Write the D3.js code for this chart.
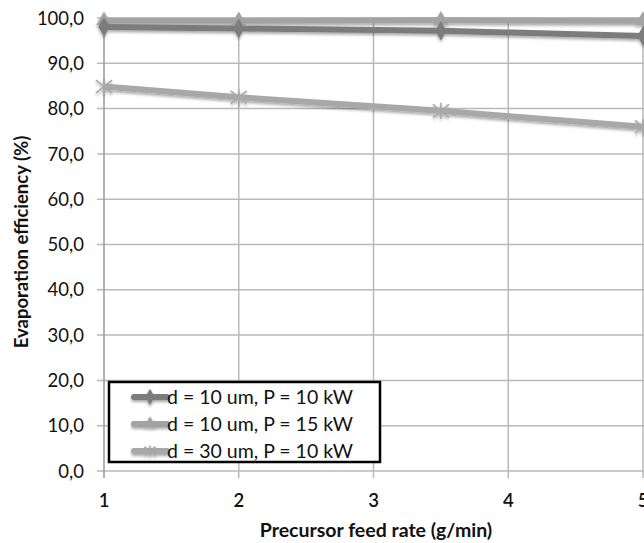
<!DOCTYPE html>
<html>
<head>
<meta charset="utf-8">
<script src="https://cdn.jsdelivr.net/npm/d3@7"></script>
<style>
  html, body { margin: 0; padding: 0; background: #fff; }
  svg { display: block; }
</style>
</head>
<body>
<div id="chart"></div>
<script>
// Feed rates (g/min) and evaporation efficiency (%) for each case
const feedRates = [1, 2, 3.5, 5];
const seriesNames = ["d = 10 um, P = 10 kW", "d = 10 um, P = 15 kW", "d = 30 um, P = 10 kW"];
const effD10P10 = [98.0, 97.7, 97.2, 96.0];
const effD10P15 = [99.4, 99.4, 99.5, 99.4];
const effD30P10 = [84.9, 82.5, 79.5, 76.0];
const yTicks = [0, 10, 20, 30, 40, 50, 60, 70, 80, 90, 100];
const xTicks = [1, 2, 3, 4, 5];

const W = 644, H = 543;
const plotLeft = 104, plotRight = 643, plotTop = 18, plotBottom = 471;
const FONT = "Lato, 'Open Sans', sans-serif";

const svg = d3.select("#chart").append("svg").attr("width", W).attr("height", H);

const defs = svg.append("defs");
const f = defs.append("filter").attr("id", "shadow")
  .attr("x", "-10%").attr("y", "-50%").attr("width", "120%").attr("height", "200%");
f.append("feGaussianBlur").attr("in", "SourceAlpha").attr("stdDeviation", 1.6).attr("result", "b");
f.append("feOffset").attr("in", "b").attr("dx", 0).attr("dy", 2).attr("result", "o");
f.append("feComponentTransfer").attr("in", "o").attr("result", "s")
  .append("feFuncA").attr("type", "linear").attr("slope", 0.35);
const m = f.append("feMerge");
m.append("feMergeNode").attr("in", "s");
m.append("feMergeNode").attr("in", "SourceGraphic");

const x = d3.scaleLinear().domain([1, 5]).range([plotLeft, plotRight]);
const y = d3.scaleLinear().domain([0, 100]).range([plotBottom, plotTop]);

const gridColor = "#b9b9b9";

// horizontal gridlines
svg.append("g").selectAll("line").data(yTicks).join("line")
  .attr("x1", plotLeft - 7).attr("x2", W)
  .attr("y1", d => y(d)).attr("y2", d => y(d))
  .attr("stroke", gridColor).attr("stroke-width", 1.5);

// vertical gridlines
svg.append("g").selectAll("line").data(xTicks).join("line")
  .attr("x1", d => x(d)).attr("x2", d => x(d))
  .attr("y1", plotTop).attr("y2", plotBottom + 7)
  .attr("stroke", d => d === 1 ? "#9a9a9a" : gridColor).attr("stroke-width", 1.5);

// y tick labels
svg.append("g").selectAll("text").data(yTicks).join("text")
  .attr("x", 84).attr("y", d => y(d)).attr("dy", "0.36em")
  .attr("text-anchor", "end")
  .attr("font-family", FONT).attr("font-size", 18.5)
  .attr("fill", "#111")
  .text(d => d3.format(".1f")(d).replace(".", ","));

// x tick labels
svg.append("g").selectAll("text").data(xTicks).join("text")
  .attr("x", d => x(d)).attr("y", 500).attr("dy", "0.36em")
  .attr("text-anchor", "middle")
  .attr("font-family", FONT).attr("font-size", 18.5)
  .attr("font-weight", 600)
  .attr("fill", "#111")
  .text(d => d);

// axis titles
svg.append("text")
  .attr("x", 376).attr("y", 537)
  .attr("text-anchor", "middle")
  .attr("font-family", FONT).attr("font-size", 19.5).attr("font-weight", 700)
  .attr("fill", "#111")
  .text("Precursor feed rate (g/min)");

svg.append("text")
  .attr("transform", "translate(28,242) rotate(-90)")
  .attr("text-anchor", "middle")
  .attr("font-family", FONT).attr("font-size", 18.5).attr("font-weight", 700)
  .attr("fill", "#111")
  .text("Evaporation efficiency (%)");

const series = [
  { name: seriesNames[0], values: effD10P10, color: "#7c7c7c", marker: "diamond" },
  { name: seriesNames[1], values: effD10P15, color: "#a3a3a3", marker: "triangle" },
  { name: seriesNames[2], values: effD30P10, color: "#a8a8a8", marker: "star" }
];

const line = d3.line().x(d => x(d[0])).y(d => y(d[1]));

function drawMarker(g, type, cx, cy, color, s) {
  s = s || 1;
  if (type === "diamond") {
    g.append("path").attr("d", d3.symbol(d3.symbolDiamond, 110 * s)())
      .attr("transform", `translate(${cx},${cy})`).attr("fill", color);
  } else if (type === "triangle") {
    g.append("path").attr("d", d3.symbol(d3.symbolTriangle, 110 * s)())
      .attr("transform", `translate(${cx},${cy})`).attr("fill", color);
  } else {
    const r = 8 * s;
    const p = `M${-r},${-r * 0.8}L${r},${r * 0.8}M${-r},${r * 0.8}L${r},${-r * 0.8}M0,${-r}L0,${r}`;
    g.append("path").attr("d", p).attr("transform", `translate(${cx},${cy})`)
      .attr("stroke", color).attr("stroke-width", 1.6).attr("fill", "none");
  }
}

// draw lower curves first so upper ones sit on top
const order = [2, 1, 0];
order.forEach(i => {
  const s = series[i];
  const data = feedRates.map((fr, k) => [fr, s.values[k]]);
  const g = svg.append("g").attr("filter", "url(#shadow)");
  g.append("path").datum(data).attr("d", line)
    .attr("fill", "none").attr("stroke", s.color).attr("stroke-width", 6)
    .attr("stroke-linejoin", "round");
  data.forEach(d => drawMarker(g, s.marker, x(d[0]), y(d[1]), s.color));
});

// legend
const lg = svg.append("g");
lg.append("rect").attr("x", 109).attr("y", 382).attr("width", 271).attr("height", 80)
  .attr("fill", "#fff").attr("stroke", "#000").attr("stroke-width", 2.5);
series.forEach((s, i) => {
  const cy = 397 + i * 27;
  const g = lg.append("g").attr("filter", "url(#shadow)");
  g.append("line").attr("x1", 134).attr("x2", 167).attr("y1", cy).attr("y2", cy)
    .attr("stroke", s.color).attr("stroke-width", 6).attr("stroke-linecap", "round");
  drawMarker(g, s.marker, 150, cy, s.color, 0.7);
  lg.append("text").attr("x", 167).attr("y", cy).attr("dy", "0.36em")
    .attr("font-family", FONT).attr("font-size", 19.5)
    .attr("fill", "#111").text(s.name);
});
</script>
</body>
</html>
